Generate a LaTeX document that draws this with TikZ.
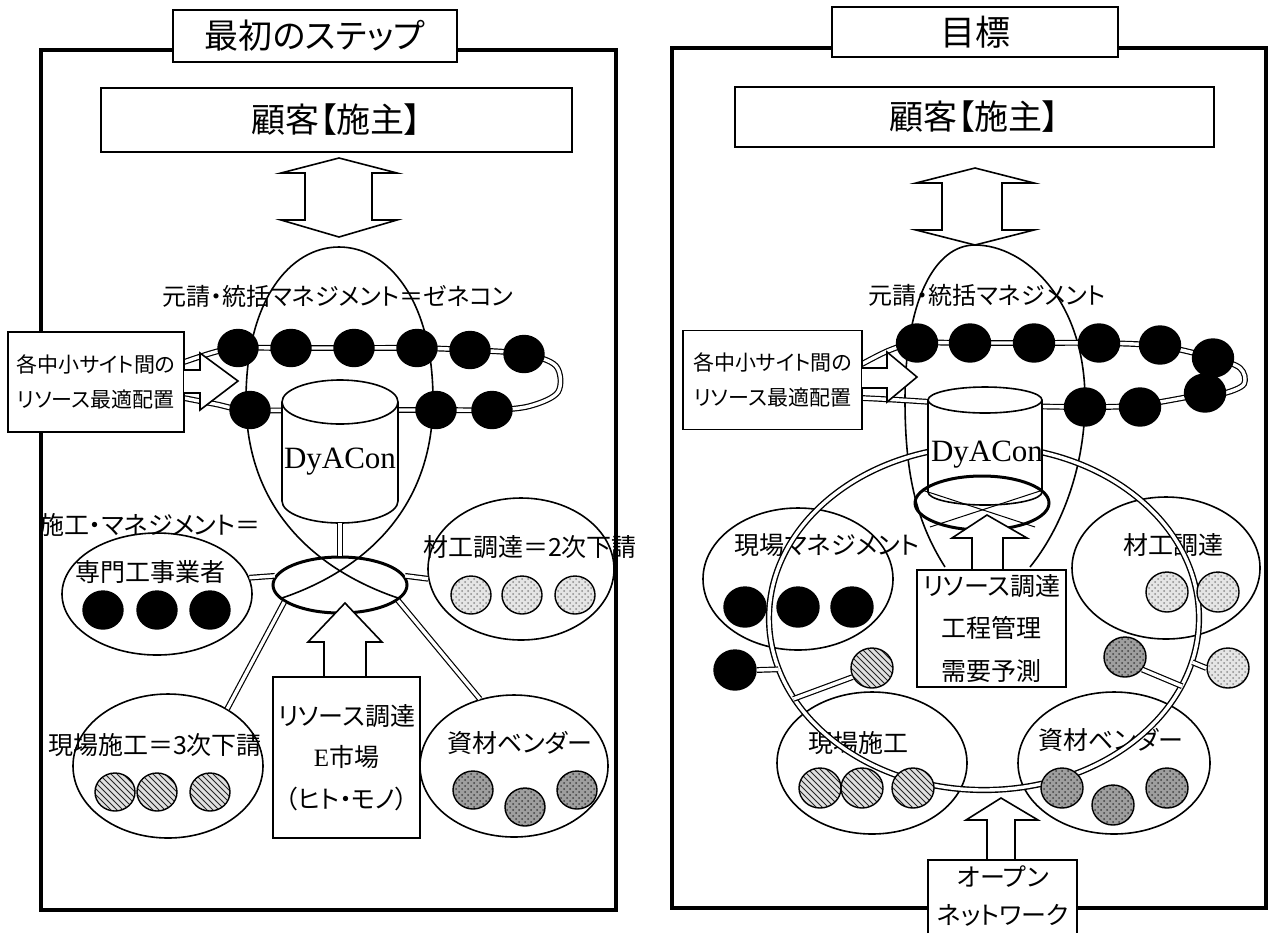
\documentclass[tikz,border=0pt]{standalone}
\usepackage{fontspec}
\setmainfont{Liberation Serif}
\newfontfamily\jp[RawFeature=+palt]{Noto Sans CJK JP}
\usetikzlibrary{shapes.geometric,patterns}
\newcommand\jf[1]{\jp\fontsize{#1}{#1}\selectfont}
\newcommand\jfb[2]{\jp\fontsize{#1}{#2}\selectfont}
\begin{document}
\begin{tikzpicture}[x=0.5pt,y=-0.5pt,
  frame/.style={draw,line width=2pt},
  box/.style={draw,line width=0.8pt,fill=white,inner sep=0pt},
  ln/.style={draw,line width=0.8pt},
  grp/.style={ellipse,draw,line width=0.8pt,inner sep=0pt},
  hub/.style={ellipse,draw,line width=1.5pt,inner sep=0pt},
  dotshape/.style={ellipse,draw,line width=0.7pt,inner sep=0pt,minimum width=20pt,minimum height=19pt},
  bdot/.style={dotshape,fill=black},
  hdot/.style={dotshape,pattern=north west lines,pattern color=black!85,preaction={fill=black!12}},
  ldot/.style={dotshape,pattern=crosshatch dots,pattern color=black!45,preaction={fill=black!10}},
  gdot/.style={dotshape,pattern=crosshatch dots,pattern color=black!75,preaction={fill=black!38}},
  dbl/.style={draw,line width=0.6pt,double=white,double distance=1.7pt},
  lbl/.style={inner sep=0pt,font=\jf{12.5}},
]
\useasboundingbox (0,0) rectangle (1273,933);
\fill[white] (0,0) rectangle (1273,933);

%%%%%%%%%%%%%%%% LEFT PANEL %%%%%%%%%%%%%%%%
\draw[frame] (41,50) rectangle (616,910);
\node[box,minimum width=142pt,minimum height=26pt,font=\jf{17}] (titleL) at (315,36) {最初のステップ};
\node[box,minimum width=235.5pt,minimum height=32pt,font=\jf{17}] (custL) at (336.5,120) {顧客【施主】};
\draw[ln,fill=white] (339,158) -- (397,173) -- (372,173) -- (372,220) -- (397,220) -- (339,237) -- (281,220) -- (305,220) -- (305,173) -- (281,173) -- cycle;

% management oval
\draw[ln] (398,598) .. controls (330,575) and (246,520) .. (246,400) .. controls (246,300) and (290,247) .. (339,247) .. controls (388,247) and (433,300) .. (433,400) .. controls (433,520) and (350,575) .. (282,598);
\node[inner sep=0pt,font=\jf{12}] (geneL) at (338,296) {元請・統括マネジメント＝ゼネコン};

% ring of sites
\draw[dbl] plot[smooth,tension=0.55] coordinates {(184,362) (215,352) (238,348) (291,348) (354,348) (417,348) (470,350) (524,354) (556,366) (558,392) (530,406) (492,410) (436,410) (340,410) (250,410) (215,404) (184,398)};
\foreach \n/\x/\y in {a/238/348, b/291/348, c/354/348, d/417/348, e/470/350, f/524/354, g/250/410, h/436/410, i/492/410}
  \node[bdot,minimum width=20pt,minimum height=18.5pt] (rL\n) at (\x,\y) {};

% callout
\node[box,minimum width=88pt,minimum height=50pt,align=center,font=\jfb{10.5}{17.5}] (callL) at (96,382) {各中小サイト間の\\リソース最適配置};
\path[fill=white] (184,370) -- (200,370) -- (200,353) -- (238,381) -- (200,410) -- (200,393) -- (184,393) -- cycle;
\draw[ln] (184,370) -- (200,370) -- (200,353) -- (238,381) -- (200,410) -- (200,393) -- (184,393);

% DyACon cylinder
\draw[ln,fill=white] (282,402) -- (282,501) arc[start angle=180,end angle=360,x radius=29pt,y radius=11pt] -- (398,402) arc[start angle=0,end angle=180,x radius=29pt,y radius=11pt] -- cycle;
\draw[ln] (282,402) arc[start angle=180,end angle=360,x radius=29pt,y radius=11pt];
\node[inner sep=0pt,font=\fontsize{15.5}{15.5}\selectfont] (dyL) at (340,462) {DyACon};
\coordinate (cylL) at (340,523);

% groups
\node[grp,minimum width=95pt,minimum height=61pt] (senmon) at (157,594) {};
\node[grp,minimum width=93pt,minimum height=71pt] (zaiko) at (521,569) {};
\node[grp,minimum width=95pt,minimum height=72pt] (genbaL) at (168,766) {};
\node[grp,minimum width=94pt,minimum height=71pt] (shizai) at (514,766) {};

% hub and spokes
\node[hub,minimum width=67pt,minimum height=28pt] (hubL) at (340,585) {};
\draw[dbl] (cylL) -- (hubL.north);
\draw[dbl] (hubL.172) -- (senmon.10);
\draw[dbl] (hubL.8) -- (zaiko.186);
\draw[dbl] (hubL.197) -- (genbaL.44);
\draw[dbl] (hubL.345) -- (shizai.117);

% labels
\node[lbl] (t1) at (150,525) {施工・マネジメント＝};
\node[lbl] (t2) at (150,572) {専門工事業者};
\node[lbl] (t3) at (530,547) {材工調達＝2次下請};
\node[lbl] (t4) at (155,745) {現場施工＝3次下請};
\node[lbl] (t5) at (520,743) {資材ベンダー};

% member dots
\node[bdot] (s1) at (103,610) {};
\node[bdot] (s2) at (157,610) {};
\node[bdot] (s3) at (210,610) {};
\node[ldot] (z1) at (471,595) {};
\node[ldot] (z2) at (522,595) {};
\node[ldot] (z3) at (575,595) {};
\node[hdot] (g1) at (115,792) {};
\node[hdot] (g2) at (157,792) {};
\node[hdot] (g3) at (210,792) {};
\node[gdot] (v1) at (473,790) {};
\node[gdot] (v2) at (525,807) {};
\node[gdot] (v3) at (577,790) {};

% resource arrow and box
\draw[ln,fill=white] (345,603) -- (382,642) -- (366,642) -- (366,677) -- (324,677) -- (324,642) -- (308,642) -- cycle;
\node[box,minimum width=73.5pt,minimum height=80.5pt,align=center,font=\jfb{12.5}{20.75}] (resL) at (346.5,757.5) {リソース調達\\{\rmfamily E}市場\\（ヒト・モノ）};

%%%%%%%%%%%%%%%% RIGHT PANEL %%%%%%%%%%%%%%%%
\draw[frame] (672,48) rectangle (1266,908);
\node[box,minimum width=143pt,minimum height=25pt,font=\jf{17.5}] (titleR) at (975,32) {目標};
\node[box,minimum width=239.5pt,minimum height=30pt,font=\jf{17}] (custR) at (974.5,117) {顧客【施主】};
\draw[ln,fill=white] (975,168) -- (1034,183) -- (1002,183) -- (1002,230) -- (1034,230) -- (975,245) -- (916,230) -- (942,230) -- (942,183) -- (916,183) -- cycle;

% management oval
\draw[ln] (945,567) .. controls (915,520) and (905,470) .. (905,400) .. controls (905,300) and (935,245) .. (975,245) .. controls (1025,245) and (1085,300) .. (1085,400) .. controls (1085,470) and (1060,530) .. (1030,567);
\node[inner sep=0pt,font=\jf{12}] (geneR) at (987,295) {元請・統括マネジメント};

% ring of sites
\draw[dbl] plot[smooth,tension=0.55] coordinates {(862,364) (890,350) (917,343) (970,343) (1034,343) (1099,343) (1160,346) (1213,358) (1240,368) (1244,384) (1225,393) (1205,394) (1140,405) (1085,407) (985,405) (900,400) (862,398)};
\foreach \n/\x/\y in {a/917/343, b/970/343, c/1034/343, d/1099/343, e/1160/345, f/1213/358, g/1205/393, h/1140/407, i/1085/407}
  \node[bdot,minimum width=20.5pt,minimum height=19pt] (rR\n) at (\x,\y) {};

% callout
\node[box,minimum width=89.5pt,minimum height=49.5pt,align=center,font=\jfb{10.5}{17.5}] (callR) at (772.5,380) {各中小サイト間の\\リソース最適配置};
\path[fill=white] (862,368) -- (887,368) -- (887,352) -- (917,377) -- (887,402) -- (887,388) -- (862,388) -- cycle;
\draw[ln] (862,368) -- (887,368) -- (887,352) -- (917,377) -- (887,402) -- (887,388) -- (862,388);

% groups
\node[grp,minimum width=95pt,minimum height=71pt] (genbaM) at (798,579) {};
\node[grp,minimum width=94pt,minimum height=71pt] (zaikoR) at (1166,568) {};
\node[grp,minimum width=95pt,minimum height=71pt] (genbaS) at (872,763) {};
\node[grp,minimum width=96pt,minimum height=71pt] (shizaiR) at (1114,763) {};
\node[lbl] (u1) at (827,545) {現場マネジメント};
\node[lbl] (u2) at (1173,545) {材工調達};
\node[lbl] (u3) at (858,743) {現場施工};
\node[lbl] (u4) at (1111,740) {資材ベンダー};

% open network ring
\node[ellipse,inner sep=0pt,minimum width=215pt,minimum height=172pt,draw,line width=0.7pt,double=white,double distance=1.7pt] (ringR) at (984,618) {};

% member dots
\node[bdot,minimum width=21pt,minimum height=20pt] (m1) at (745,607) {};
\node[bdot,minimum width=21pt,minimum height=20pt] (m2) at (798,607) {};
\node[bdot,minimum width=21pt,minimum height=20pt] (m3) at (852,607) {};
\node[ldot,minimum width=21pt,minimum height=20pt] (k1) at (1167,592) {};
\node[ldot,minimum width=21pt,minimum height=20pt] (k2) at (1218,592) {};
\node[hdot,minimum width=21pt,minimum height=20pt] (p1) at (820,788) {};
\node[hdot,minimum width=21pt,minimum height=20pt] (p2) at (862,788) {};
\node[hdot,minimum width=21pt,minimum height=20pt] (p3) at (913,788) {};
\node[gdot,minimum width=21pt,minimum height=20pt] (q1) at (1062,788) {};
\node[gdot,minimum width=21pt,minimum height=20pt] (q2) at (1113,805) {};
\node[gdot,minimum width=21pt,minimum height=20pt] (q3) at (1167,788) {};

% outside members
\node[bdot,minimum width=21pt,minimum height=20pt] (oB) at (735,670) {};
\node[hdot,minimum width=21pt,minimum height=20pt] (oH) at (872,668) {};
\node[gdot,minimum width=21pt,minimum height=20pt] (oG) at (1125,657) {};
\node[ldot,minimum width=21pt,minimum height=20pt] (oL) at (1228,668) {};
\draw[dbl] (ringR.194) -- (oB.east);
\draw[dbl] (ringR.203) -- (oH.205);
\draw[dbl] (ringR.341) -- (oG.324);
\draw[dbl] (ringR.348) -- (oL.west);

% DyACon cylinder
\draw[ln,fill=white] (928,400) -- (928,492) arc[start angle=180,end angle=360,x radius=28.5pt,y radius=6.5pt] -- (1042,400) arc[start angle=0,end angle=180,x radius=28.5pt,y radius=6.5pt] -- cycle;
\draw[ln] (928,400) arc[start angle=180,end angle=360,x radius=28.5pt,y radius=6.5pt];
\node[inner sep=0pt,font=\fontsize{15.5}{15.5}\selectfont] (dyR) at (987,455) {DyACon};
\node[hub,minimum width=67pt,minimum height=27pt] (hubR) at (982,503) {};
\draw[line width=0.5pt] (922,490) -- (1035,527);
\draw[line width=0.5pt] (1043,490) -- (930,527);

% resource arrow and box
\draw[ln,fill=white] (987,515) -- (1027,538) -- (1003,538) -- (1003,571) -- (972,571) -- (972,538) -- (952,538) -- cycle;
\node[box,minimum width=74.5pt,minimum height=58.5pt,align=center,font=\jfb{12.5}{21.25}] (resR) at (991.5,628.5) {リソース調達\\工程管理\\需要予測};

% open network arrow and box
\draw[ln,fill=white] (1001,798) -- (1038,820) -- (1015,820) -- (1015,861) -- (987,861) -- (987,820) -- (966,820) -- cycle;
\path[fill=white] (928,933) rectangle (1077,860);
\draw[ln] (928,933) -- (928,860) -- (1077,860) -- (1077,933);
\node[lbl] (o1) at (1003,877) {オープン};
\node[lbl] (o2) at (1003,915) {ネットワーク};
\end{tikzpicture}
\end{document}
